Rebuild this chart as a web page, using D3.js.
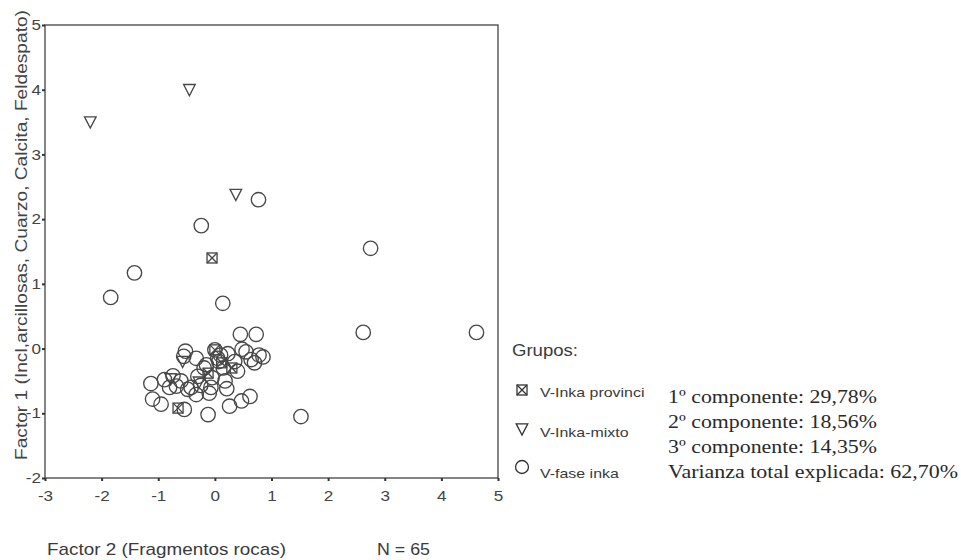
<!DOCTYPE html>
<html>
<head>
<meta charset="utf-8">
<script src="https://cdn.jsdelivr.net/npm/d3@7"></script>
<style>
  html, body { margin: 0; padding: 0; background: #fff; }
  svg { display: block; }
</style>
</head>
<body>
<svg id="chart" width="961" height="560"></svg>
<script>
// Factor scores (Factor 2 on x, Factor 1 on y) for each group
const groupNames = ["V-Inka provinci", "V-Inka-mixto", "V-fase inka"];
const groupSymbols = ["squareX", "triangle", "circle"];

const provinciF2 = [-0.05, 0.00, -0.65, 0.30, -0.12, 0.12];
const provinciF1 = [1.40, -0.02, -0.92, -0.30, -0.38, -0.22];

const mixtoF2 = [-2.20, -0.45, 0.37, -0.57, -0.78, -0.28];
const mixtoF1 = [3.50, 4.00, 2.38, -0.20, -0.47, -0.52];

const faseF2 = [0.77, -0.24, -1.42, -1.84, 0.14, 2.75, 2.62, 4.62, 1.52, -0.12,
                0.45, 0.73, -0.52, 0.00, 0.23, 0.48, 0.70, 0.85, 0.78, 0.64,
                -0.19, 0.07, 0.18, 0.21, -0.30, -1.13, -0.89, -0.74, -0.68, -0.48,
                -0.33, -0.10, -1.10, -0.95, -0.54, 0.26, 0.47, 0.62, -0.55, -0.33,
                0.05, -0.05, -0.25, 0.15, -0.80, -0.42, 0.10, -0.15, 0.35, -0.60,
                0.55, -0.07, 0.40];
const faseF1 = [2.30, 1.90, 1.17, 0.79, 0.70, 1.55, 0.25, 0.25, -1.05, -1.02,
                0.22, 0.22, -0.04, -0.02, -0.08, -0.01, -0.22, -0.13, -0.10, -0.17,
                -0.30, -0.20, -0.50, -0.62, -0.43, -0.54, -0.48, -0.42, -0.58, -0.63,
                -0.71, -0.69, -0.78, -0.86, -0.94, -0.89, -0.81, -0.74, -0.12, -0.15,
                -0.15, -0.45, -0.57, -0.30, -0.60, -0.60, -0.10, -0.25, -0.20, -0.50,
                -0.05, -0.60, -0.35];

const seriesX = [provinciF2, mixtoF2, faseF2];
const seriesY = [provinciF1, mixtoF1, faseF1];

const xTickValues = [-3, -2, -1, 0, 1, 2, 3, 4, 5];
const yTickValues = [-2, -1, 0, 1, 2, 3, 4, 5];

const xTitle = "Factor 2 (Fragmentos rocas)";
const yTitle = "Factor 1 (Incl,arcillosas, Cuarzo, Calcita, Feldespato)";
const nLabel = "N = 65";
const legendTitle = "Grupos:";
const statLines = ["1º componente: 29,78%", "2º componente: 18,56%",
                   "3º componente: 14,35%", "Varianza total explicada: 62,70%"];

const SANS = "'Liberation Sans', Arial, sans-serif";
const SERIF = "'Liberation Serif', 'Times New Roman', serif";
const INK = "#3a3a3a";
const WIDE = 1.18; // horizontal text stretch

const svg = d3.select("#chart");

const x = d3.scaleLinear().domain([-3, 5]).range([45, 498]);
const y = d3.scaleLinear().domain([-2, 5]).range([478, 25]);

// stretch text horizontally by a factor, or to an exact width
function widen(sel, k, width) {
  sel.each(function () {
    const w = this.getComputedTextLength();
    this.setAttribute("textLength", width != null ? width : w * k);
    this.setAttribute("lengthAdjust", "spacingAndGlyphs");
  });
}

// plot frame
svg.append("rect")
  .attr("x", x(-3)).attr("y", y(5))
  .attr("width", x(5) - x(-3)).attr("height", y(-2) - y(5))
  .attr("fill", "none").attr("stroke", "#444").attr("stroke-width", 1.3);

// axes (plain hyphen for negative numbers)
const fmt = d => String(d);
const xAxis = svg.append("g")
  .attr("transform", `translate(0,${y(-2)})`)
  .call(d3.axisBottom(x).tickValues(xTickValues).tickSize(3).tickPadding(6).tickFormat(fmt));
const yAxis = svg.append("g")
  .attr("transform", `translate(${x(-3)},0)`)
  .call(d3.axisLeft(y).tickValues(yTickValues).tickSize(3).tickPadding(1).tickFormat(fmt));

[xAxis, yAxis].forEach(g => {
  g.select(".domain").remove();
  g.selectAll(".tick line").attr("stroke", "#333").attr("stroke-width", 2);
  g.selectAll(".tick text")
    .attr("fill", "#444")
    .style("font-family", SANS)
    .style("font-size", "14.5px");
});
xAxis.selectAll(".tick text").attr("dy", "0.95em");
widen(xAxis.selectAll(".tick text"), WIDE);
widen(yAxis.selectAll(".tick text"), WIDE);

// axis titles
svg.append("text")
  .attr("transform", "translate(27,235) rotate(-90)")
  .attr("text-anchor", "middle")
  .attr("fill", "#444")
  .style("font-family", SANS).style("font-size", "17px")
  .text(yTitle)
  .call(widen, 1, 450);

svg.append("text")
  .attr("x", 47).attr("y", 555)
  .attr("fill", INK)
  .style("font-family", SANS).style("font-size", "17px")
  .text(xTitle)
  .call(widen, 1, 239);

svg.append("text")
  .attr("x", 377).attr("y", 555)
  .attr("fill", INK)
  .style("font-family", SANS).style("font-size", "17px")
  .text(nLabel)
  .call(widen, 1, 53);

// marker shapes
function drawSymbol(g, kind, size) {
  const s = size || 1;
  if (kind === "circle") {
    g.append("circle").attr("r", 7.2 * s);
  } else if (kind === "triangle") {
    const w = 5.8 * s, h = 5.2 * s;
    g.append("path").attr("d", `M${-w},${-h}L${w},${-h}L0,${h + 0.8 * s}Z`);
  } else {
    const a = 5 * s;
    g.append("rect").attr("x", -a).attr("y", -a).attr("width", 2 * a).attr("height", 2 * a);
    g.append("path").attr("d", `M${-a},${-a}L${a},${a}M${a},${-a}L${-a},${a}`);
  }
}

const marks = svg.append("g")
  .attr("fill", "none").attr("stroke", "#484848").attr("stroke-width", 1.35);

// circles first so the other groups stay visible on top
[2, 1, 0].forEach(gi => {
  const pts = d3.zip(seriesX[gi], seriesY[gi]);
  marks.append("g").selectAll("g")
    .data(pts)
    .join("g")
    .attr("transform", d => `translate(${x(d[0])},${y(d[1])})`)
    .each(function () { drawSymbol(d3.select(this), groupSymbols[gi]); });
});

// legend
svg.append("text")
  .attr("x", 512).attr("y", 355.5)
  .attr("fill", INK)
  .style("font-family", SANS).style("font-size", "16px")
  .text(legendTitle)
  .call(widen, 1, 66);

const legendRows = [392.5, 432, 473];
const legendSym = [390, 429, 467];
const legend = svg.append("g");
groupNames.forEach((name, i) => {
  const sg = legend.append("g")
    .attr("transform", `translate(522,${legendSym[i]})`)
    .attr("fill", "none").attr("stroke", "#333").attr("stroke-width", 1.3);
  drawSymbol(sg, groupSymbols[i], groupSymbols[i] === "circle" ? 0.9 : 1);
  legend.append("text")
    .attr("x", 540).attr("y", legendRows[i] + 4.7)
    .attr("fill", INK)
    .style("font-family", SANS).style("font-size", "13.5px")
    .text(name)
    .call(widen, WIDE);
});

// explained variance notes
const statWidths = [209, 209, 209, 290];
statLines.forEach((line, i) => {
  svg.append("text")
    .attr("x", 668).attr("y", 403 + i * 25)
    .attr("fill", "#2a2a2a")
    .style("font-family", SERIF).style("font-size", "19px")
    .text(line)
    .call(widen, 1, statWidths[i]);
});
</script>
</body>
</html>
